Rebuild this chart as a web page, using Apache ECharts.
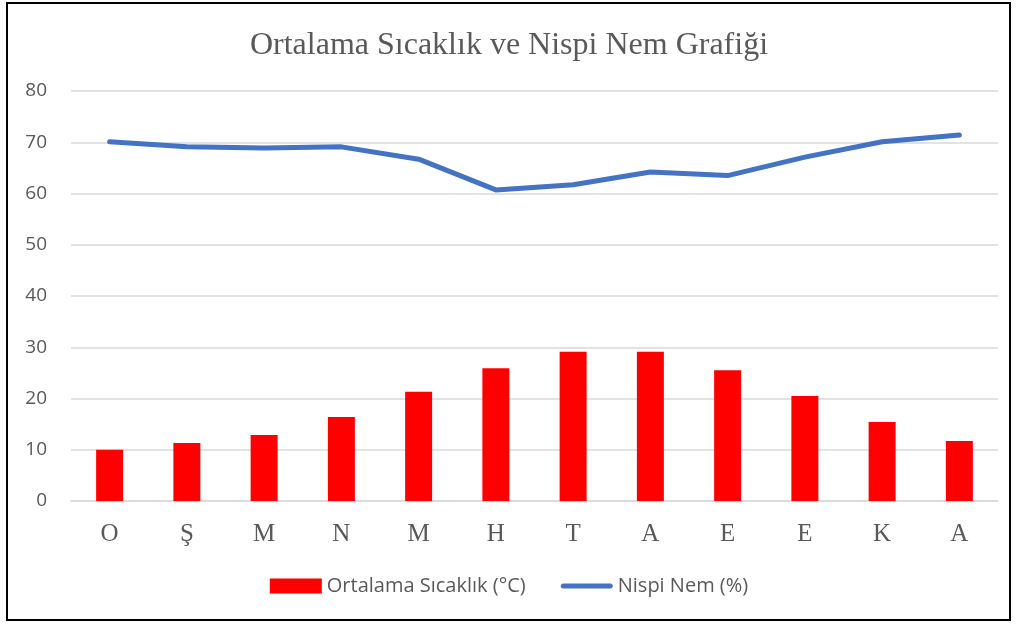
<!DOCTYPE html>
<html>
<head>
<meta charset="utf-8">
<script src="https://cdn.jsdelivr.net/npm/echarts@6/dist/echarts.min.js"></script>
<style>
  html, body { margin: 0; padding: 0; background: #fff; }
  #frame {
    position: absolute; left: 6px; top: 2px; width: 1005px; height: 619px;
    border: 2px solid #000; box-sizing: border-box;
  }
  #chart { position: absolute; left: 0; top: 0; width: 1018px; height: 628px; }
</style>
</head>
<body>
<div id="chart"></div>
<div id="frame"></div>
<script>
  // aylar (baş harfleri)
  var months = ['O', 'Ş', 'M', 'N', 'M', 'H', 'T', 'A', 'E', 'E', 'K', 'A'];
  // ortalama sıcaklık (°C)
  var temperature = [10, 11.3, 12.9, 16.4, 21.3, 25.9, 29.1, 29.1, 25.5, 20.5, 15.4, 11.7];
  // nispi nem (%)
  var humidity = [70.1, 69.1, 68.9, 69.1, 66.7, 60.7, 61.7, 64.2, 63.5, 67.1, 70.1, 71.4];

  // lejant için kalın yuvarlak uçlu çizgi
  var lineIcon = 'path://M0,0M52,15M2.5,5L49.5,5A2.5,2.5,0,0,1,49.5,10L2.5,10A2.5,2.5,0,0,1,2.5,5Z';

  var myChart = echarts.init(document.getElementById('chart'));
  var option = {
    animation: false,
    title: {
      text: 'Ortalama Sıcaklık ve Nispi Nem Grafiği',
      left: 'center',
      top: 25,
      textStyle: {
        fontFamily: 'Liberation Serif',
        fontWeight: 'normal',
        fontSize: 32,
        color: '#595959'
      }
    },
    legend: {
      bottom: 27,
      left: 'center',
      itemGap: 35,
      itemWidth: 52,
      itemHeight: 15,
      textStyle: { fontFamily: 'Open Sans', fontSize: 20, color: '#595959' },
      data: [
        { name: 'Ortalama Sıcaklık (°C)', icon: 'rect', itemStyle: { color: '#ff0000' } },
        { name: 'Nispi Nem (%)', icon: lineIcon, itemStyle: { color: '#4472c4' } }
      ]
    },
    grid: {
      left: 71,
      right: 20,
      top: 91,
      bottom: 127
    },
    xAxis: {
      type: 'category',
      data: months,
      axisTick: { show: false },
      axisLine: { lineStyle: { color: '#d9d9d9', width: 1.5 } },
      axisLabel: {
        fontFamily: 'Liberation Serif',
        fontSize: 25,
        color: '#595959',
        margin: 21
      }
    },
    yAxis: {
      type: 'value',
      min: 0,
      max: 80,
      interval: 10,
      axisLabel: {
        fontFamily: 'Open Sans',
        fontSize: 19,
        color: '#595959',
        margin: 24
      },
      splitLine: { lineStyle: { color: '#d9d9d9', width: 1.5 } }
    },
    series: [
      {
        name: 'Ortalama Sıcaklık (°C)',
        type: 'bar',
        data: temperature,
        barWidth: 27,
        itemStyle: { color: '#ff0000' }
      },
      {
        name: 'Nispi Nem (%)',
        type: 'line',
        data: humidity,
        symbol: 'none',
        lineStyle: { color: '#4472c4', width: 5, cap: 'round', join: 'round' },
        itemStyle: { color: '#4472c4' }
      }
    ]
  };
  myChart.setOption(option);
</script>
</body>
</html>
